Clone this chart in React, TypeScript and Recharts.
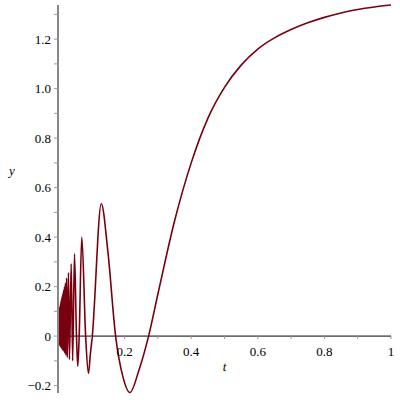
import React from "react";
import { LineChart, Line, XAxis, YAxis, ReferenceLine, ReferenceDot } from "recharts";

// fast oscillation close to t = 0 (peaks and troughs)
const tDense = [
  0, 0.001, 0.0015, 0.002, 0.0025, 0.003, 0.0035, 0.004, 0.0045, 0.005, 0.0055, 0.006,
  0.0065, 0.007, 0.0075, 0.008, 0.0085, 0.0088, 0.009, 0.0093, 0.0096, 0.0099, 0.0102,
  0.0105, 0.0109, 0.0113, 0.0117, 0.0121, 0.0126, 0.0131, 0.0137, 0.0143, 0.015, 0.0157,
  0.0165, 0.0174, 0.0184, 0.0196, 0.0208, 0.0223, 0.024, 0.0259, 0.0282, 0.0315, 0.0344,
  0.0396, 0.044,
];
const yDense = [
  0, 0.09, -0.02, 0.1, -0.03, 0.105, -0.034, 0.11, -0.036, 0.115, -0.038, 0.12,
  -0.04, 0.125, -0.042, 0.13, -0.044, 0.135, -0.045, 0.139, -0.046, 0.143, -0.047,
  0.147, -0.049, 0.152, -0.051, 0.157, -0.053, 0.163, -0.055, 0.17, -0.057, 0.178,
  -0.06, 0.188, -0.064, 0.2, -0.07, 0.215, -0.078, 0.235, -0.087, 0.257, -0.095,
  0.292, -0.1,
];

// slower waves
const tWave = [0.0495, 0.0555, 0.0594, 0.0636, 0.0714, 0.083, 0.0915, 0.097, 0.103, 0.13, 0.15, 0.173, 0.195, 0.216, 0.243];
const yWave = [0.333, 0, -0.122, 0, 0.4, 0, -0.151, -0.075, 0, 0.535, 0.338, 0, -0.165, -0.228, -0.138];

// final rise to the plateau
const tRise = [0.272, 0.3, 0.35, 0.4, 0.45, 0.5, 0.55, 0.6, 0.65, 0.7, 0.75, 0.8, 0.85, 0.9, 0.95, 1];
const yRise = [0, 0.17, 0.465, 0.7, 0.88, 1.005, 1.095, 1.16, 1.205, 1.239, 1.266, 1.288, 1.306, 1.32, 1.33, 1.338];

const yTicks = [-0.2, -0.1, 0, 0.1, 0.2, 0.3, 0.4, 0.5, 0.6, 0.7, 0.8, 0.9, 1.0, 1.1, 1.2, 1.3];
const yLabels = ["−0.2", "", "0", "", "0.2", "", "0.4", "", "0.6", "", "0.8", "", "1.0", "", "1.2", ""];
const xTicks = [0.1, 0.2, 0.3, 0.4, 0.5, 0.6, 0.7, 0.8, 0.9, 1];
const xLabels = ["", "0.2", "", "0.4", "", "0.6", "", "0.8", "", "1"];

const data = [
  ...tDense.map((t, i) => ({ t, y: yDense[i] })),
  ...tWave.map((t, i) => ({ t, y: yWave[i] })),
  ...tRise.map((t, i) => ({ t, y: yRise[i] })),
];

const textStyle = {
  fontFamily: "'Liberation Serif', 'DejaVu Serif', 'Times New Roman', serif",
  fontSize: 13,
};
const curveColor = "#78000E";

const YTick = (props: any) => {
  const idx = yTicks.findIndex((v) => Math.abs(v - props.payload.value) < 1e-9);
  const label = idx >= 0 ? yLabels[idx] : "";
  if (!label) return null;
  return (
    <text x={props.x} y={props.y} dy="0.35em" textAnchor="end" style={textStyle} fill="#000">
      {label}
    </text>
  );
};

const xTickShape = (label: string) => (p: any) => (
  <g>
    <line x1={p.cx} y1={p.cy} x2={p.cx} y2={p.cy + 3} stroke="#999" strokeWidth={1} />
    {label && (
      <text x={p.cx} y={p.cy + 20} textAnchor="middle" style={textStyle} fill="#000">
        {label}
      </text>
    )}
  </g>
);

export default function App() {
  return (
    <div style={{ position: "fixed", left: 0, top: 0, width: 400, height: 400, background: "#fff" }}>
      <LineChart width={400} height={400} data={data} margin={{ top: 5, right: 9, bottom: 7, left: 0 }}>
        <XAxis dataKey="t" type="number" domain={[0, 1]} hide />
        <YAxis
          type="number"
          domain={[-0.23, 1.338]}
          ticks={yTicks}
          width={58}
          interval={0}
          axisLine={{ stroke: "#888", strokeWidth: 2 }}
          tickLine={{ stroke: "#999" }}
          tickSize={4}
          tickMargin={3}
          tick={<YTick />}
        />
        <ReferenceLine y={0} stroke="#000" strokeWidth={1} />
        {xTicks.map((t, i) => (
          <ReferenceDot key={t} x={t} y={0} r={0} shape={xTickShape(xLabels[i])} />
        ))}
        <ReferenceDot
          x={0.5}
          y={0}
          r={0}
          shape={(p: any) => (
            <text x={p.cx} y={p.cy + 35} textAnchor="middle" style={{ ...textStyle, fontStyle: "italic" }} fill="#000">
              t
            </text>
          )}
        />
        <ReferenceDot
          x={0}
          y={0.66}
          r={0}
          shape={(p: any) => (
            <text x={p.cx - 46} y={p.cy + 2} textAnchor="middle" style={{ ...textStyle, fontStyle: "italic" }} fill="#000">
              y
            </text>
          )}
        />
        <Line
          type="monotone"
          dataKey="y"
          stroke={curveColor}
          strokeWidth={1.6}
          dot={false}
          isAnimationActive={false}
        />
      </LineChart>
    </div>
  );
}
